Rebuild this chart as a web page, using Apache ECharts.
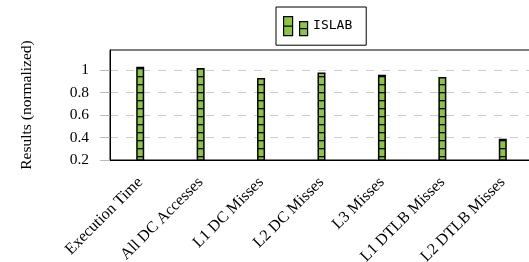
<!DOCTYPE html>
<html><head><meta charset="utf-8">
<script src="https://cdn.jsdelivr.net/npm/echarts@6/dist/echarts.min.js"></script>
<style>html,body{margin:0;padding:0;background:#fff}#c{width:529px;height:262px}</style>
</head><body><div id="c"></div>
<script>
const categories = ['Execution Time','All DC Accesses','L1 DC Misses','L2 DC Misses','L3 Misses','L1 DTLB Misses','L2 DTLB Misses'];
const islab = [1.03, 1.02, 0.93, 0.98, 0.96, 0.94, 0.39];
const yTicks = [0.2, 0.4, 0.6, 0.8, 1];
const seriesName = 'ISLAB';
const yTitle = 'Results (normalized)';

const GREEN = '#8cc63f';
const pc = document.createElement('canvas');
pc.width = 8; pc.height = 8;
const pctx = pc.getContext('2d');
pctx.fillStyle = GREEN; pctx.fillRect(0,0,8,8);
pctx.fillStyle = '#000'; pctx.fillRect(0,4,8,1.3);

const serif = 'Liberation Serif';
const FS = 15.5;
const chart = echarts.init(document.getElementById('c'), null, {renderer:'canvas'});
chart.setOption({
  animation:false,
  grid:{left:110, top:50, width:423, height:110, show:true, borderColor:'#000', borderWidth:1,
    containLabel:false, outerBoundsMode:'none'},
  legend:{
    left:276, top:7, orient:'horizontal',
    borderColor:'#000', borderWidth:1, padding:[9,14,9,7],
    itemWidth:25, itemHeight:19, itemGap:5,
    icon:'path://M0,0h9v19h-9z M0,9.5h9 M16,5h8v14h-8z M16,12h8',
    data:[{name:seriesName, itemStyle:{color:GREEN, borderColor:'#000', borderWidth:1.2}}],
    textStyle:{fontFamily:'DejaVu Sans Mono', fontSize:13, color:'#000'}
  },
  graphic:[{type:'text', x:27, y:105, rotation:Math.PI/2,
    style:{text:yTitle, font:FS+'px "Liberation Serif"', fill:'#000', align:'center', verticalAlign:'middle'}}],
  xAxis:{type:'category', data:categories, boundaryGap:true,
    axisLine:{lineStyle:{color:'#000', width:1}},
    axisTick:{alignWithLabel:true, length:10, lineStyle:{color:'#bbb'}},
    axisLabel:{rotate:45, margin:20, interval:0, fontFamily:serif, fontSize:16, color:'#000'},
    splitLine:{show:false}},
  yAxis:{type:'value', min:0.2, max:1.18, interval:0.2,
    axisLine:{show:true, lineStyle:{color:'#000', width:1}},
    axisTick:{show:true, length:10, lineStyle:{color:'#bbb'}, customValues:yTicks},
    axisLabel:{margin:21, fontFamily:serif, fontSize:FS, color:'#000', customValues:yTicks},
    splitLine:{show:true, lineStyle:{color:'#ccc', type:[8,8], width:1}}},
  series:[{name:seriesName, type:'bar', data:islab, barWidth:8,
    itemStyle:{color:{image:pc, repeat:'repeat'}, borderColor:'#000', borderWidth:1.5}}]
});
</script></body></html>
